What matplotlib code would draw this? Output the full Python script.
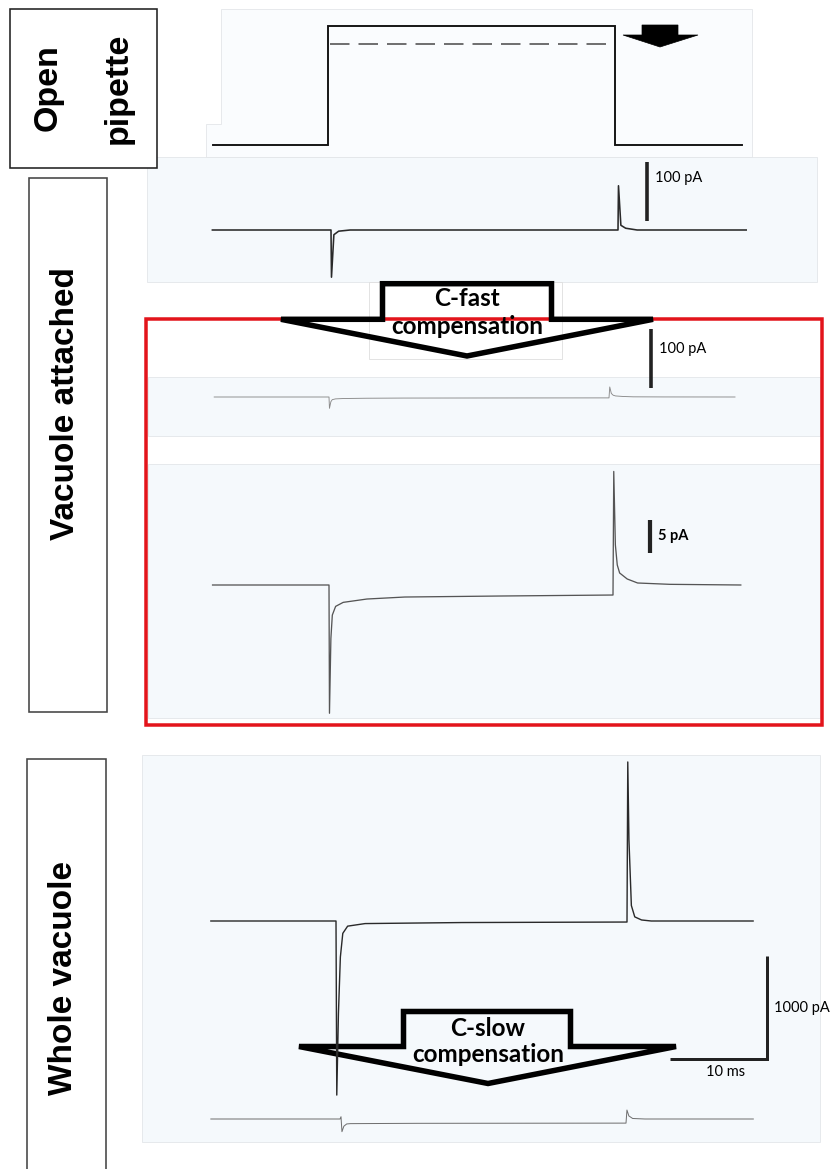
import matplotlib
matplotlib.use("Agg")
import matplotlib.pyplot as plt
from matplotlib.patches import Rectangle, Polygon

# ---------------- recorded data (time in ms, current in pA, voltage in mV) ----------------
STEP_ON, STEP_OFF = 12.0, 42.0

# voltage protocol
volt_t = [0.0, 12.0, 12.0, 42.0, 42.0, 55.3]
volt_v = [0.0, 0.0, 10.0, 10.0, 0.0, 0.0]
volt_reduced = 8.5          # dashed level during the step

# open pipette current
pip_t = [-0.4, 12.0, 12.05, 12.3, 12.8, 14.0, 42.0, 42.05, 42.3, 42.8, 44.0, 55.4]
pip_i = [0.0, 0.0, -80.0, -8.0, -2.0, 0.0, 0.0, 75.0, 8.0, 3.0, 0.0, 0.0]

# vacuole attached, after C-fast compensation
att_t = [-0.3, 12.0, 12.05, 12.2, 12.35, 12.7, 13.5, 16.0, 20.0, 30.0, 42.0,
         42.08, 42.25, 42.45, 42.7, 43.5, 44.6, 48.0, 55.5]
att_i = [0.0, 0.0, -19.2, -8.0, -4.5, -3.2, -2.6, -2.1, -1.8, -1.65, -1.5,
         17.0, 6.0, 3.0, 1.8, 0.9, 0.3, 0.1, 0.0]

# whole vacuole, before C-slow compensation
whole_t = [-0.9, 12.0, 12.08, 12.25, 12.45, 12.7, 13.2, 15.0, 25.0, 42.0,
           42.08, 42.2, 42.45, 42.8, 43.5, 44.5, 55.0]
whole_i = [0.0, 0.0, -1690.0, -900.0, -350.0, -120.0, -50.0, -25.0, -15.0, -10.0,
           1544.0, 790.0, 150.0, 40.0, 10.0, 0.0, 0.0]

# whole vacuole, after C-slow compensation
slow_t = [-1.7, 11.9, 12.0, 12.1, 12.3, 12.6, 13.0, 20.0, 42.0,
          42.1, 42.3, 42.7, 44.0, 55.4]
slow_i = [0.0, 0.0, 22.0, -123.0, -70.0, -48.0, -45.0, -42.0, -40.0,
          87.0, 30.0, 5.0, 0.0, 0.0]

# scale bars
bar_pipette_pA = 100
bar_attached_pA = 100
bar_zoom_pA = 5
bar_whole_pA = 1000
bar_time_ms = 10

# panel labels
label_open = ["Open", "pipette"]
label_attached = "Vacuole attached"
label_whole = "Whole vacuole"
label_fast = ["C-fast", "compensation"]
label_slow = ["C-slow", "compensation"]

# ---------------- figure ----------------
W, H = 830, 1169
fig = plt.figure(figsize=(W / 100, H / 100), dpi=100)
base = fig.add_axes([0, 0, 1, 1])
base.set_xlim(0, W)
base.set_ylim(H, 0)
base.axis("off")

PX = 0.72  # points per pixel at 100 dpi
TINT = "#f5f9fc"
EDGE = "#e2e5e8"
SANS = ["Liberation Sans", "DejaVu Sans"]
CAL = ["Lato", "DejaVu Sans"]


def trace_axes(x_on, x_off, y_base, k):
    """Axes spanning the figure, in ms / signal units, placed by pixel anchors."""
    s = (x_off - x_on) / (STEP_OFF - STEP_ON)
    left = x_on - STEP_ON * s
    ax = fig.add_axes([0, 0, 1, 1])
    ax.set_xlim(-left / s, (W - left) / s)
    ax.set_ylim((y_base - H) / k, y_base / k)
    ax.axis("off")
    ax.patch.set_alpha(0)
    return ax


# panel backgrounds
base.add_patch(Polygon([(221, 9), (752, 9), (752, 157), (206, 157), (206, 124), (221, 124)],
                       closed=True, facecolor="#fafcfe", edgecolor=EDGE, lw=0.8 * PX))
base.add_patch(Rectangle((147, 157), 670, 125, facecolor=TINT, edgecolor=EDGE, lw=0.8 * PX))
base.add_patch(Rectangle((369, 282), 193, 77, facecolor="white", edgecolor="#dcdcdc", lw=0.8 * PX))
base.add_patch(Rectangle((148, 377), 672, 59, facecolor=TINT, edgecolor=EDGE, lw=0.8 * PX))
base.add_patch(Rectangle((148, 464), 672, 254, facecolor=TINT, edgecolor=EDGE, lw=0.8 * PX))
base.add_patch(Rectangle((142, 755), 678, 387, facecolor=TINT, edgecolor=EDGE, lw=0.8 * PX))

# condition label boxes
base.add_patch(Rectangle((10, 9), 147, 159, facecolor="white", edgecolor="#222222", lw=1.6 * PX))
base.add_patch(Rectangle((29, 178), 78, 534, facecolor="white", edgecolor="#444444", lw=1.6 * PX))
base.add_patch(Rectangle((27, 759), 79, 430, facecolor="white", edgecolor="#444444", lw=1.6 * PX))
base.text(48, 88, label_open[0], rotation=90, ha="center", va="center",
          fontsize=24.5, fontweight="bold", family=SANS)
base.text(118, 88, label_open[1], rotation=90, ha="center", va="center",
          fontsize=24.5, fontweight="bold", family=SANS)
base.text(66, 404, label_attached, rotation=90, ha="center", va="center",
          fontsize=24, fontweight="bold", family=SANS)
base.text(64, 978, label_whole, rotation=90, ha="center", va="center",
          fontsize=24, fontweight="bold", family=SANS)

# red frame around the vacuole-attached recordings
base.add_patch(Rectangle((146, 319), 676, 406, facecolor="none", edgecolor="#e3141b",
                         lw=3.5 * PX, zorder=3))


def block_arrow(xl, xr, top, wing, wl, wr, tip, xc):
    pts = [(xl, top), (xr, top), (xr, wing), (wr, wing), (xc, tip), (wl, wing), (xl, wing)]
    base.add_patch(Polygon(pts, closed=True, facecolor="none", edgecolor="black",
                           lw=5.5 * PX, joinstyle="miter", zorder=4))


block_arrow(382.5, 551.5, 283.7, 319.3, 281, 653, 356, 467)
base.text(467, 299, label_fast[0], ha="center", va="center", fontsize=17.5,
          fontweight="bold", family=CAL, zorder=5)
base.text(467, 326, label_fast[1], ha="center", va="center", fontsize=17.5,
          fontweight="bold", family=CAL, zorder=5)

block_arrow(403.5, 570.5, 1011.5, 1046.5, 299, 676, 1083.5, 488)
base.text(488, 1029, label_slow[0], ha="center", va="center", fontsize=17.5,
          fontweight="bold", family=CAL, zorder=5)
base.text(488, 1055, label_slow[1], ha="center", va="center", fontsize=17.5,
          fontweight="bold", family=CAL, zorder=5)

# small filled arrow marking the reduced step
base.add_patch(Polygon([(642, 25), (678, 25), (678, 35), (698, 35), (660, 47), (623, 35), (642, 35)],
                       closed=True, facecolor="black", edgecolor="black", lw=0.5, zorder=4))

# ---------------- traces ----------------
BAR = "#222222"

# voltage step
axv = trace_axes(328, 615, 145, 11.9)
axv.plot(volt_t, volt_v, color="#111111", lw=1.9 * PX, solid_joinstyle="miter")
axv.plot([STEP_ON + 0.2, STEP_OFF - 0.2], [volt_reduced, volt_reduced], color="#444444",
         lw=1.5 * PX, dashes=(13, 6))

# open pipette
axp = trace_axes(331, 618, 230, 0.59)
axp.plot(pip_t, pip_i, color="#2a2a2a", lw=1.6 * PX)
axp.plot([45.0, 45.0], [15.3, 15.3 + bar_pipette_pA], color=BAR, lw=3.6 * PX, solid_capstyle="butt")
axp.annotate(f"{bar_pipette_pA} pA", (45.0, 15.3 + bar_pipette_pA * 0.72), xytext=(6, 0),
             textcoords="offset points", va="center", ha="left", fontsize=10.5, family=CAL)

# vacuole attached, full scale
axa = trace_axes(329, 609, 397, 0.59)
axa.plot(att_t, att_i, color="#8a8a8a", lw=0.9 * PX)
axa.plot([46.5, 46.5], [15.3, 15.3 + bar_attached_pA], color=BAR, lw=3.6 * PX, solid_capstyle="butt")
axa.annotate(f"{bar_attached_pA} pA", (46.5, 15.3 + bar_attached_pA * 0.66), xytext=(6, 0),
             textcoords="offset points", va="center", ha="left", fontsize=10.5, family=CAL)

# vacuole attached, expanded
axz = trace_axes(329, 613, 585, 6.68)
axz.plot(att_t, att_i, color="#555555", lw=1.3 * PX)
axz.plot([45.9, 45.9], [4.8, 4.8 + bar_zoom_pA], color=BAR, lw=4.2 * PX, solid_capstyle="butt")
axz.annotate(f"{bar_zoom_pA} pA", (45.9, 4.8 + bar_zoom_pA * 0.5), xytext=(6, 0),
             textcoords="offset points", va="center", ha="left", fontsize=10.5,
             fontweight="bold", family=CAL)

# whole vacuole
axw = trace_axes(336, 627, 921, 0.103)
axw.plot(whole_t, whole_i, color="#2a2a2a", lw=1.4 * PX)
t0, i0 = 56.4, -1340.0
axw.plot([t0 - bar_time_ms, t0, t0], [i0, i0, i0 + bar_whole_pA], color=BAR, lw=3.0 * PX,
         solid_joinstyle="miter", solid_capstyle="butt")
axw.annotate(f"{bar_whole_pA} pA", (t0, i0 + bar_whole_pA * 0.5), xytext=(5, 0),
             textcoords="offset points", va="center", ha="left", fontsize=10.5, family=CAL)
axw.annotate(f"{bar_time_ms} ms", (t0 - bar_time_ms * 0.42, i0), xytext=(0, -9),
             textcoords="offset points", va="center", ha="center", fontsize=10.5, family=CAL)

axs = trace_axes(341, 626, 1119, 0.103)
axs.plot(slow_t, slow_i, color="#707070", lw=1.0 * PX)

fig.savefig("out.png", dpi=100, facecolor="white")
